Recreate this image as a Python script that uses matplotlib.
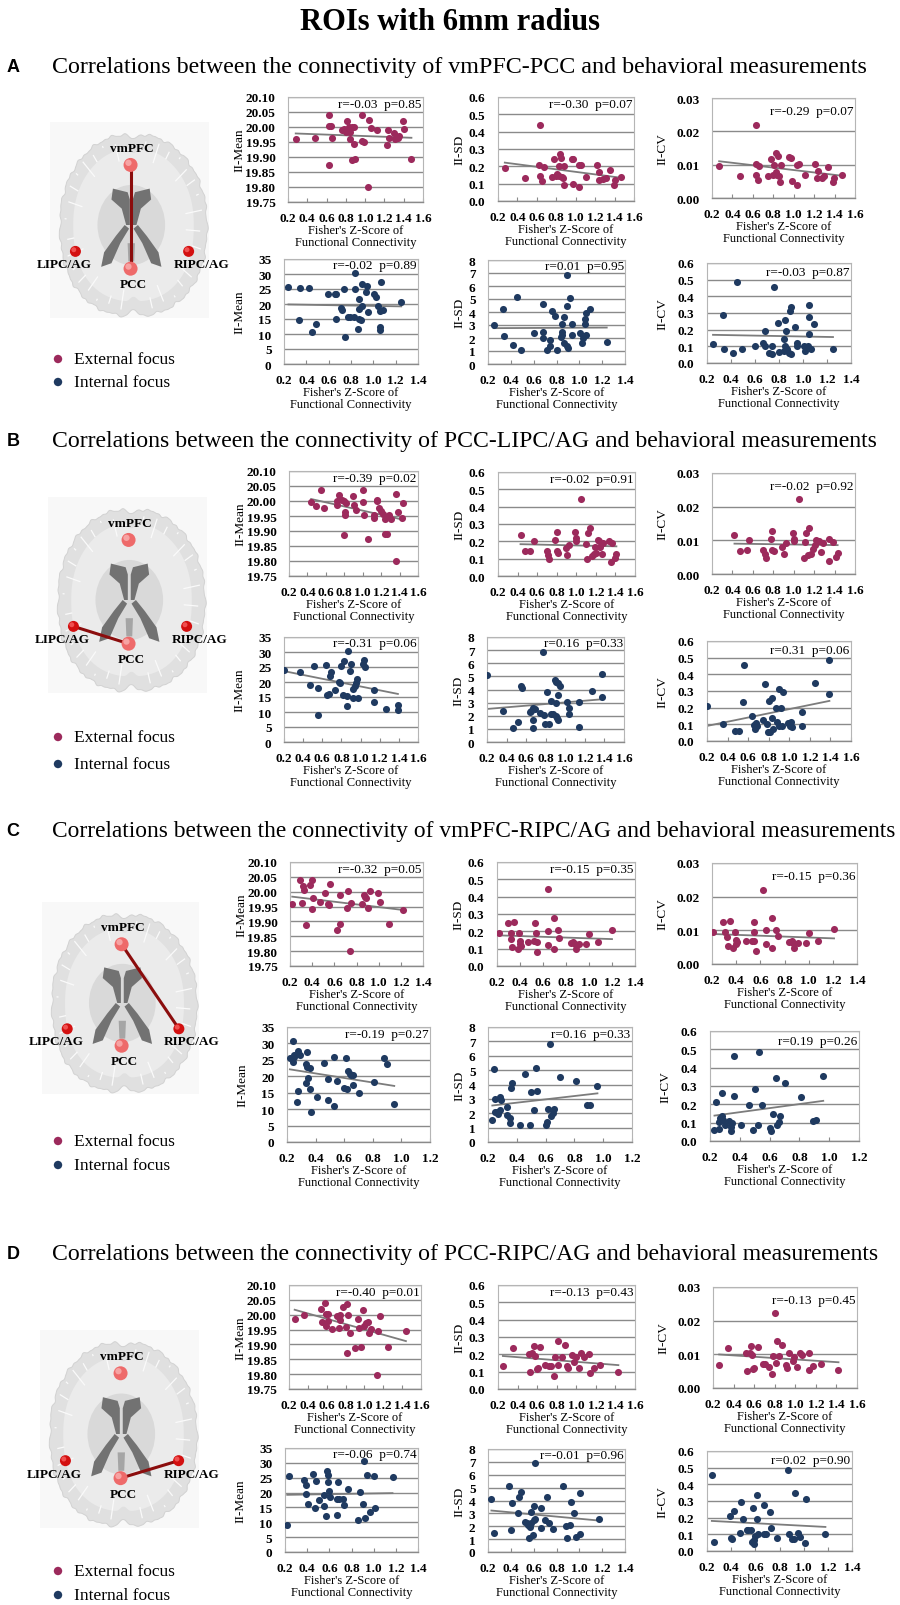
import numpy as np
import matplotlib.pyplot as plt
from matplotlib.patches import Polygon, Circle, Ellipse, Rectangle

plt.rcParams["font.family"] = "serif"
plt.rcParams["font.serif"] = ["Liberation Serif", "DejaVu Serif"]

W, H = 900, 1606
EXT_COLOR = "#9c2a5c"
INT_COLOR = "#1f3a60"

# ---------------- data (x = Fisher's Z, y = behavioural measure) ----------------
a_ext_mean = [(0.28,19.96),(0.48,19.965),(0.63,20.04),(0.63,20.005),(0.65,20.005),(0.66,19.965),(0.63,19.875),(0.76,19.99),(0.78,19.995),(0.81,20.02),(0.81,19.99),(0.83,20.00),(0.84,19.985),(0.86,20.00),(0.88,20.00),(0.84,19.96),(0.88,19.945),(0.86,19.89),(0.89,19.895),(0.97,20.04),(0.97,19.955),(0.99,19.95),(1.04,20.025),(1.06,19.997),(1.03,19.80),(1.12,19.99),(1.23,19.94),(1.24,19.99),(1.25,19.965),(1.30,19.98),(1.31,19.96),(1.35,19.97),(1.39,20.02),(1.40,19.995),(1.48,19.895),(1.34,19.962),(0.80,19.985)]
a_ext_sd = [(0.27,0.19),(0.48,0.135),(0.63,0.44),(0.62,0.21),(0.63,0.145),(0.65,0.115),(0.67,0.195),(0.76,0.14),(0.78,0.24),(0.83,0.20),(0.84,0.27),(0.85,0.25),(0.81,0.155),(0.83,0.145),(0.86,0.138),(0.87,0.13),(0.88,0.095),(0.88,0.20),(0.96,0.245),(0.97,0.24),(0.97,0.10),(1.03,0.08),(1.03,0.205),(1.05,0.205),(1.11,0.14),(1.22,0.205),(1.24,0.165),(1.24,0.12),(1.28,0.125),(1.31,0.13),(1.35,0.18),(1.39,0.095),(1.40,0.12),(1.47,0.14),(0.80,0.145)]
a_ext_cv = [(0.27,0.0096),(0.47,0.0067),(0.63,0.022),(0.63,0.0103),(0.63,0.007),(0.65,0.0055),(0.66,0.0096),(0.75,0.0066),(0.78,0.0117),(0.81,0.0099),(0.83,0.0135),(0.85,0.0127),(0.83,0.0078),(0.84,0.007),(0.86,0.0066),(0.87,0.0048),(0.88,0.0099),(0.95,0.0122),(0.97,0.012),(0.98,0.005),(1.03,0.004),(1.03,0.0099),(1.05,0.0102),(1.11,0.0069),(1.21,0.0102),(1.24,0.0082),(1.23,0.006),(1.28,0.006),(1.30,0.0066),(1.34,0.0093),(1.38,0.0048),(1.39,0.006),(1.47,0.0069),(0.80,0.007)]
a_int_mean = [(0.24,25.7),(0.34,25.5),(0.33,14.6),(0.42,25.2),(0.45,10.6),(0.49,13.2),(0.59,23.3),(0.66,23.3),(0.67,23.3),(0.67,15.1),(0.71,18.8),(0.72,18.0),(0.74,25.0),(0.75,8.9),(0.77,15.8),(0.79,15.8),(0.84,25.0),(0.83,15.8),(0.84,30.5),(0.86,11.8),(0.87,21.8),(0.87,18.2),(0.89,14.7),(0.90,26.8),(0.90,19.5),(0.93,23.9),(0.94,26.0),(0.95,17.3),(1.01,23.3),(1.02,22.4),(1.04,19.5),(1.06,11.2),(1.06,12.2),(1.06,17.6),(1.07,27.3),(1.09,18.0),(1.25,20.8),(0.87,15.0)]
a_int_sd = [(0.25,3.0),(0.33,4.23),(0.34,2.18),(0.42,1.49),(0.45,5.13),(0.49,1.10),(0.60,2.36),(0.68,4.62),(0.68,2.46),(0.68,1.97),(0.72,1.10),(0.74,1.41),(0.74,1.85),(0.76,4.10),(0.79,3.72),(0.80,1.10),(0.85,3.05),(0.85,2.46),(0.84,2.05),(0.85,2.26),(0.87,3.59),(0.87,1.6),(0.89,4.49),(0.89,1.4),(0.89,6.85),(0.90,1.23),(0.92,5.05),(0.94,3.05),(0.94,2.23),(1.01,2.38),(1.02,1.6),(1.03,1.97),(1.05,3.05),(1.05,3.49),(1.06,3.95),(1.06,2.23),(1.09,4.23),(1.24,1.72)]
a_int_cv = [(0.25,0.112),(0.33,0.29),(0.34,0.082),(0.42,0.06),(0.45,0.484),(0.49,0.086),(0.60,0.102),(0.67,0.12),(0.68,0.102),(0.68,0.195),(0.72,0.06),(0.74,0.052),(0.74,0.102),(0.76,0.458),(0.79,0.24),(0.80,0.066),(0.84,0.146),(0.85,0.102),(0.85,0.26),(0.84,0.072),(0.86,0.195),(0.87,0.082),(0.88,0.062),(0.89,0.31),(0.90,0.338),(0.90,0.052),(0.93,0.215),(0.95,0.12),(0.95,0.102),(1.01,0.102),(1.02,0.072),(1.04,0.102),(1.05,0.348),(1.05,0.278),(1.05,0.175),(1.07,0.082),(1.09,0.235),(1.25,0.082)]

b_ext_mean = [(0.44,19.996),(0.49,19.982),(0.55,20.038),(0.58,19.978),(0.72,19.988),(0.72,20.00),(0.74,20.02),(0.78,20.005),(0.80,20.00),(0.81,19.965),(0.81,19.954),(0.82,19.993),(0.80,19.887),(0.89,20.017),(0.91,19.988),(0.93,19.97),(1.00,20.038),(1.00,19.996),(1.01,19.955),(1.06,19.872),(1.12,19.955),(1.12,19.945),(1.15,20.005),(1.16,20.00),(1.18,19.978),(1.20,19.967),(1.22,19.958),(1.24,19.94),(1.24,19.89),(1.26,19.89),(1.28,19.955),(1.31,19.94),(1.36,20.025),(1.36,19.80),(1.38,19.965),(1.43,19.945),(1.44,19.993)]
b_ext_sd = [(0.43,0.238),(0.48,0.142),(0.53,0.142),(0.57,0.20),(0.70,0.142),(0.71,0.12),(0.72,0.097),(0.78,0.21),(0.80,0.255),(0.80,0.142),(0.81,0.135),(0.89,0.159),(0.90,0.12),(0.93,0.18),(0.99,0.252),(1.00,0.217),(1.00,0.203),(1.05,0.445),(1.10,0.187),(1.11,0.097),(1.12,0.248),(1.14,0.277),(1.16,0.113),(1.18,0.125),(1.19,0.165),(1.20,0.13),(1.22,0.21),(1.23,0.20),(1.26,0.128),(1.27,0.19),(1.33,0.20),(1.35,0.083),(1.36,0.193),(1.40,0.103),(1.41,0.125),(1.24,0.17)]
b_ext_cv = [(0.42,0.0117),(0.47,0.0068),(0.54,0.007),(0.56,0.01),(0.70,0.007),(0.72,0.006),(0.73,0.0048),(0.78,0.0103),(0.79,0.0127),(0.79,0.007),(0.81,0.0068),(0.89,0.008),(0.90,0.006),(0.92,0.0092),(0.99,0.0122),(1.00,0.0104),(1.00,0.0099),(1.05,0.0222),(1.11,0.0094),(1.10,0.0048),(1.12,0.0122),(1.15,0.0136),(1.14,0.0055),(1.17,0.006),(1.19,0.0075),(1.21,0.0087),(1.22,0.0101),(1.25,0.0099),(1.27,0.0065),(1.29,0.0092),(1.35,0.0103),(1.35,0.004),(1.38,0.0096),(1.41,0.005),(1.43,0.0063)]
b_int_mean = [(0.20,24.0),(0.37,23.4),(0.47,18.9),(0.51,25.4),(0.55,17.9),(0.56,8.9),(0.64,25.6),(0.65,15.6),(0.67,15.9),(0.68,22.0),(0.69,23.4),(0.73,17.4),(0.77,20.0),(0.79,19.8),(0.80,25.4),(0.82,15.8),(0.83,27.1),(0.86,15.4),(0.86,12.0),(0.87,30.3),(0.89,23.6),(0.90,26.1),(0.92,17.8),(0.92,14.6),(0.94,18.7),(0.96,20.9),(0.97,14.6),(1.03,26.1),(1.04,27.5),(1.05,25.0),(1.14,17.5),(1.14,13.3),(1.27,11.1),(1.39,12.2),(1.39,10.7),(0.95,19.6)]
b_int_sd = [(0.20,5.1),(0.36,2.4),(0.47,1.1),(0.52,1.5),(0.55,4.3),(0.56,4.1),(0.64,2.3),(0.65,2.4),(0.67,2.6),(0.67,1.65),(0.67,1.1),(0.69,2.55),(0.74,2.2),(0.77,6.85),(0.78,2.05),(0.79,1.4),(0.81,3.8),(0.83,1.38),(0.85,3.15),(0.85,2.1),(0.87,2.15),(0.89,4.7),(0.90,3.0),(0.90,4.6),(0.91,1.95),(0.92,1.8),(0.93,4.5),(0.93,3.6),(0.93,1.65),(0.95,4.3),(1.02,3.05),(1.04,2.6),(1.04,2.1),(1.14,1.15),(1.14,3.05),(1.27,3.9),(1.38,5.15),(1.38,3.45)]
b_int_cv = [(0.20,0.21),(0.36,0.10),(0.47,0.06),(0.51,0.06),(0.55,0.237),(0.56,0.457),(0.64,0.149),(0.66,0.097),(0.67,0.074),(0.68,0.109),(0.69,0.089),(0.74,0.129),(0.76,0.34),(0.78,0.10),(0.79,0.054),(0.80,0.24),(0.81,0.054),(0.83,0.26),(0.83,0.137),(0.84,0.074),(0.87,0.199),(0.88,0.113),(0.90,0.314),(0.90,0.093),(0.92,0.199),(0.93,0.089),(0.94,0.294),(0.99,0.109),(1.01,0.089),(1.02,0.113),(1.03,0.083),(1.12,0.177),(1.12,0.089),(1.25,0.35),(1.39,0.487),(1.39,0.282)]

c_ext_mean = [(0.22,19.958),(0.29,20.04),(0.31,19.961),(0.32,20.019),(0.33,20.005),(0.34,19.887),(0.38,20.021),(0.40,20.04),(0.41,19.98),(0.40,19.941),(0.47,19.966),(0.52,19.997),(0.54,19.958),(0.55,19.954),(0.56,20.027),(0.62,19.871),(0.65,19.988),(0.65,19.89),(0.71,19.946),(0.72,20.001),(0.74,19.80),(0.75,19.963),(0.85,19.96),(0.87,19.99),(0.88,19.983),(0.89,19.978),(0.90,19.945),(0.92,20.001),(0.99,19.995),(1.01,19.966),(1.09,19.893),(1.22,19.94)]
c_ext_sd = [(0.22,0.188),(0.30,0.25),(0.32,0.188),(0.32,0.158),(0.33,0.112),(0.35,0.254),(0.38,0.10),(0.39,0.188),(0.40,0.125),(0.40,0.144),(0.41,0.117),(0.47,0.138),(0.52,0.144),(0.53,0.246),(0.55,0.138),(0.54,0.188),(0.55,0.081),(0.64,0.442),(0.64,0.202),(0.64,0.123),(0.70,0.275),(0.70,0.10),(0.73,0.206),(0.74,0.163),(0.84,0.131),(0.86,0.138),(0.88,0.125),(0.89,0.096),(0.91,0.129),(0.97,0.125),(1.00,0.183),(1.08,0.138),(1.20,0.208)]
c_ext_cv = [(0.21,0.0096),(0.29,0.0126),(0.31,0.0094),(0.32,0.0079),(0.33,0.0054),(0.35,0.0129),(0.37,0.0047),(0.39,0.0094),(0.40,0.0072),(0.40,0.0059),(0.41,0.0064),(0.48,0.0069),(0.53,0.0069),(0.55,0.0124),(0.55,0.0096),(0.55,0.0069),(0.56,0.004),(0.62,0.0221),(0.65,0.0102),(0.65,0.0059),(0.70,0.0137),(0.70,0.0049),(0.73,0.0102),(0.75,0.0082),(0.84,0.0066),(0.86,0.0069),(0.87,0.0061),(0.88,0.0047),(0.91,0.0061),(0.98,0.0062),(1.00,0.0092),(1.08,0.0069),(1.21,0.0104)]
c_int_mean = [(0.22,25.6),(0.24,24.4),(0.24,30.6),(0.25,25.9),(0.25,26.4),(0.27,12.2),(0.28,15.4),(0.28,27.7),(0.29,26.4),(0.33,23.6),(0.34,22.9),(0.34,27.4),(0.35,19.5),(0.33,18.0),(0.36,22.4),(0.36,16.0),(0.37,9.1),(0.41,13.7),(0.46,23.9),(0.49,19.1),(0.49,12.7),(0.53,25.9),(0.53,11.0),(0.55,18.6),(0.60,16.3),(0.61,25.6),(0.62,16.1),(0.63,21.5),(0.64,20.8),(0.65,20.5),(0.66,20.3),(0.66,17.5),(0.70,14.9),(0.81,18.3),(0.88,25.6),(0.90,23.6),(0.95,11.5)]
c_int_sd = [(0.23,1.5),(0.24,5.1),(0.25,3.0),(0.25,2.1),(0.26,2.1),(0.27,1.97),(0.28,3.1),(0.28,2.2),(0.29,2.95),(0.33,2.46),(0.33,1.86),(0.35,1.67),(0.35,1.35),(0.36,3.78),(0.37,4.13),(0.42,1.2),(0.46,4.73),(0.49,1.16),(0.50,3.46),(0.52,2.23),(0.53,5.13),(0.54,3.57),(0.60,1.16),(0.61,1.39),(0.62,2.32),(0.63,6.84),(0.64,1.83),(0.65,2.04),(0.66,2.3),(0.70,4.5),(0.81,4.26),(0.89,2.58),(0.91,2.58),(0.96,3.9)]
c_int_cv = [(0.23,0.061),(0.24,0.215),(0.26,0.103),(0.27,0.125),(0.28,0.262),(0.28,0.139),(0.29,0.116),(0.30,0.085),(0.26,0.067),(0.33,0.107),(0.34,0.076),(0.35,0.099),(0.36,0.244),(0.36,0.461),(0.34,0.054),(0.41,0.089),(0.46,0.199),(0.49,0.061),(0.50,0.284),(0.52,0.089),(0.53,0.486),(0.55,0.197),(0.60,0.071),(0.61,0.054),(0.62,0.148),(0.64,0.342),(0.65,0.089),(0.66,0.103),(0.67,0.134),(0.70,0.315),(0.81,0.239),(0.89,0.107),(0.91,0.112),(0.96,0.353)]

d_ext_mean = [(0.26,19.985),(0.36,19.998),(0.54,20.018),(0.55,19.977),(0.58,20.038),(0.59,20.004),(0.61,20.004),(0.59,19.963),(0.61,19.98),(0.66,19.953),(0.71,19.996),(0.73,19.956),(0.74,19.982),(0.74,19.998),(0.77,20.026),(0.80,19.958),(0.82,19.872),(0.82,20.037),(0.83,19.998),(0.85,19.94),(0.90,19.888),(0.93,19.985),(0.94,19.956),(0.96,19.89),(0.99,20.015),(1.00,19.963),(1.02,19.971),(1.04,19.977),(1.05,19.938),(1.07,19.951),(1.13,19.798),(1.14,19.944),(1.17,19.994),(1.25,19.892),(1.44,19.944)]
d_ext_sd = [(0.25,0.135),(0.35,0.237),(0.52,0.202),(0.53,0.096),(0.55,0.206),(0.57,0.25),(0.58,0.19),(0.60,0.115),(0.61,0.121),(0.63,0.244),(0.68,0.14),(0.72,0.135),(0.74,0.13),(0.77,0.077),(0.78,0.187),(0.81,0.275),(0.81,0.14),(0.85,0.187),(0.88,0.254),(0.91,0.135),(0.92,0.121),(0.96,0.198),(0.98,0.158),(1.00,0.183),(1.03,0.121),(1.05,0.206),(1.08,0.187),(1.13,0.202),(1.14,0.090),(1.18,0.121),(1.24,0.138),(1.43,0.096)]
d_ext_cv = [(0.26,0.0069),(0.35,0.0119),(0.52,0.0103),(0.53,0.0050),(0.56,0.0103),(0.57,0.0124),(0.58,0.0099),(0.59,0.0056),(0.60,0.006),(0.64,0.0123),(0.69,0.007),(0.71,0.0072),(0.74,0.0062),(0.77,0.0042),(0.78,0.0096),(0.80,0.0223),(0.82,0.0139),(0.81,0.0074),(0.84,0.0096),(0.87,0.0129),(0.91,0.0067),(0.92,0.006),(0.94,0.0103),(0.98,0.0081),(0.99,0.0093),(1.02,0.0062),(1.05,0.0103),(1.07,0.0099),(1.13,0.0052),(1.13,0.0103),(1.17,0.0064),(1.25,0.0072),(1.42,0.0052)]
d_int_mean = [(0.22,9.0),(0.24,25.5),(0.37,24.1),(0.39,22.4),(0.39,19.6),(0.41,16.1),(0.45,26.3),(0.47,14.8),(0.48,23.8),(0.51,17.6),(0.55,19.1),(0.55,15.4),(0.57,12.0),(0.58,27.2),(0.59,25.8),(0.59,23.6),(0.60,20.5),(0.61,18.5),(0.68,23.6),(0.67,12.3),(0.67,17.9),(0.69,17.9),(0.72,17.9),(0.73,15.7),(0.77,21.3),(0.86,10.9),(0.88,20.2),(0.90,16.3),(0.91,30.6),(0.92,11.4),(0.94,26.0),(0.97,13.4),(1.00,25.7),(1.01,14.9),(1.17,25.3)]
d_int_sd = [(0.23,4.12),(0.25,1.5),(0.38,5.15),(0.40,1.67),(0.41,3.79),(0.46,3.02),(0.47,4.25),(0.49,4.69),(0.52,2.32),(0.54,2.24),(0.55,2.11),(0.56,1.11),(0.57,1.93),(0.58,3.14),(0.58,2.24),(0.59,1.29),(0.60,2.5),(0.60,3.56),(0.61,6.89),(0.61,2.58),(0.66,1.88),(0.66,3.43),(0.70,2.45),(0.72,4.25),(0.73,2.27),(0.77,1.75),(0.86,5.15),(0.88,2.0),(0.89,1.11),(0.92,2.13),(0.93,3.92),(0.95,3.02),(0.97,1.16),(1.01,4.56),(1.01,1.37),(1.17,2.53)]
d_int_cv = [(0.24,0.459),(0.26,0.056),(0.39,0.211),(0.40,0.081),(0.41,0.07),(0.42,0.241),(0.47,0.111),(0.48,0.292),(0.50,0.195),(0.53,0.127),(0.54,0.125),(0.56,0.125),(0.57,0.056),(0.58,0.258),(0.59,0.064),(0.59,0.044),(0.60,0.091),(0.61,0.191),(0.61,0.338),(0.62,0.105),(0.67,0.278),(0.67,0.101),(0.69,0.101),(0.72,0.235),(0.73,0.141),(0.78,0.081),(0.87,0.487),(0.88,0.101),(0.90,0.07),(0.92,0.07),(0.93,0.348),(0.95,0.111),(0.97,0.085),(1.01,0.05),(1.02,0.312),(1.18,0.101)]

a_notes = ["r=-0.03  p=0.85", "r=-0.30  p=0.07", "r=-0.29  p=0.07", "r=-0.02  p=0.89", "r=0.01  p=0.95", "r=-0.03  p=0.87"]
b_notes = ["r=-0.39  p=0.02", "r=-0.02  p=0.91", "r=-0.02  p=0.92", "r=-0.31  p=0.06", "r=0.16  p=0.33", "r=0.31  p=0.06"]
c_notes = ["r=-0.32  p=0.05", "r=-0.15  p=0.35", "r=-0.15  p=0.36", "r=-0.19  p=0.27", "r=0.16  p=0.33", "r=0.19  p=0.26"]
d_notes = ["r=-0.40  p=0.01", "r=-0.13  p=0.43", "r=-0.13  p=0.45", "r=-0.06  p=0.74", "r=-0.01  p=0.96", "r=0.02  p=0.90"]

panel_letters = ["A", "B", "C", "D"]
panel_titles = [
    "Correlations between the connectivity of vmPFC-PCC and behavioral measurements",
    "Correlations between the connectivity of PCC-LIPC/AG and behavioral measurements",
    "Correlations between the connectivity of vmPFC-RIPC/AG and behavioral measurements",
    "Correlations between the connectivity of PCC-RIPC/AG and behavioral measurements",
]
panel_links = [("vmPFC", "PCC"), ("LIPC/AG", "PCC"), ("vmPFC", "RIPC/AG"), ("PCC", "RIPC/AG")]
panel_data = [
    [a_ext_mean, a_ext_sd, a_ext_cv, a_int_mean, a_int_sd, a_int_cv],
    [b_ext_mean, b_ext_sd, b_ext_cv, b_int_mean, b_int_sd, b_int_cv],
    [c_ext_mean, c_ext_sd, c_ext_cv, c_int_mean, c_int_sd, c_int_cv],
    [d_ext_mean, d_ext_sd, d_ext_cv, d_int_mean, d_int_sd, d_int_cv],
]
panel_notes = [a_notes, b_notes, c_notes, d_notes]
panel_xmax = [(1.6, 1.4), (1.6, 1.6), (1.4, 1.2), (1.6, 1.4)]

# y axis per measure: label, limits, number of steps, format
measures = [
    ("II-Mean", (19.75, 20.10), 7, "{:.2f}"),
    ("II-SD", (0.0, 0.6), 6, "{:.1f}"),
    ("II-CV", (0.0, 0.03), 3, "{:.2f}"),
    ("II-Mean", (0, 35), 7, "{:.0f}"),
    ("II-SD", (0, 8), 8, "{:.0f}"),
    ("II-CV", (0.0, 0.6), 6, "{:.1f}"),
]

# ---------------- layout in pixels ----------------
title_y = [67, 441, 832, 1255]
title_size = [17.3, 17.1, 16.8, 17.1]
brain_box = [(60, 207, 135, 317), (58, 205, 510, 692), (52, 197, 915, 1093), (50, 197, 1343, 1527)]
legend_y = [(360, 383), (738, 765), (1142, 1166), (1572, 1596)]
axes_box = [
    [(288, 423, 98, 203), (498, 634, 98, 202), (712, 855, 99, 199),
     (284, 418, 260, 365), (488, 625, 261, 365), (707, 851, 264, 364)],
    [(289, 418, 472, 577), (498, 635, 473, 577), (712, 855, 474, 575),
     (284, 418, 638, 743), (487, 624, 638, 743), (707, 851, 642, 742)],
    [(290, 423, 863, 967), (497, 635, 863, 967), (712, 857, 864, 965),
     (287, 430, 1028, 1143), (488, 632, 1028, 1143), (710, 859, 1032, 1142)],
    [(289, 421, 1286, 1390), (498, 635, 1286, 1390), (713, 857, 1288, 1389),
     (285, 418, 1449, 1553), (488, 625, 1450, 1553), (707, 852, 1452, 1552)],
]
ylabel_off = [48, 38, 49, 44, 28, 44]
note_y = [0.933, 0.933, 0.87, 0.94, 0.94, 0.91]

nodes = {"vmPFC": (0.48, 0.17), "PCC": (0.48, 0.74), "LIPC/AG": (0.105, 0.645), "RIPC/AG": (0.875, 0.645)}
node_labels = {"vmPFC": (0.49, 0.075), "PCC": (0.50, 0.825), "LIPC/AG": (0.03, 0.715), "RIPC/AG": (0.965, 0.715)}

fig = plt.figure(figsize=(W / 100, H / 100), dpi=100)
bg = fig.add_axes([0, 0, 1, 1])
bg.set_xlim(0, W)
bg.set_ylim(H, 0)
bg.axis("off")


def draw_brain(ax, box, link):
    x0, x1, y0, y1 = box
    w, h = x1 - x0, y1 - y0

    def P(u, v):
        return np.column_stack([x0 + np.asarray(u) * w, y0 + np.asarray(v) * h])

    ax.add_patch(Rectangle((x0 - 10, y0 - 12), w + 12, h + 14, color="#f8f8f8", lw=0, zorder=0))
    t = np.linspace(0, 2 * np.pi, 1200)
    c, s = np.cos(t), np.sin(t)
    ux = np.sign(c) * np.abs(c) ** (2 / 2.3)
    uy = np.sign(s) * np.abs(s) ** (2 / 2.3)
    ux = ux * (1 - 0.10 * np.clip(-uy, 0, 1) ** 2)
    r = 1 + 0.009 * np.sin(23 * t + 0.5) + 0.007 * np.sin(41 * t + 1.3) + 0.004 * np.sin(67 * t)
    notch = 0.06 * (np.exp(-((t - np.pi / 2) / 0.05) ** 2) + np.exp(-((t - 3 * np.pi / 2) / 0.05) ** 2))
    ax.add_patch(Polygon(P(0.5 + 0.5 * ux * r, 0.5 + 0.5 * uy * (r - notch)),
                         fc="#e0e0e0", ec="#d2d2d2", lw=0.7, zorder=1))
    ax.add_patch(Polygon(P(0.5 + 0.41 * ux, 0.5 + 0.42 * uy * (1 - notch)),
                         fc="#ebebeb", ec="none", zorder=1))
    # sulci: short light strokes of varying length near the rim
    for k in range(34):
        a = 2 * np.pi * k / 34 + 0.05
        ca, sa = np.cos(a), np.sin(a)
        if abs(ca) < 0.12:
            continue
        ex = np.sign(ca) * abs(ca) ** (2 / 2.3)
        ey = np.sign(sa) * abs(sa) ** (2 / 2.3)
        r0 = 0.36 + 0.05 * ((k * 7) % 3)
        r1 = 0.45 + 0.015 * ((k * 5) % 2)
        ax.plot(*P([0.5 + r0 * ex, 0.5 + r1 * ex], [0.5 + r0 * ey, 0.5 + r1 * ey]).T,
                color="#fafafa", lw=0.9, zorder=1)
    ax.add_patch(Ellipse((x0 + 0.485 * w, y0 + 0.5 * h), 0.46 * w, 0.44 * h, fc="#d9d9d9", ec="none", zorder=1))
    horn = np.array([(0.36, 0.30), (0.46, 0.32), (0.475, 0.36), (0.475, 0.50), (0.45, 0.50), (0.42, 0.41), (0.35, 0.36)])
    arm = np.array([(0.44, 0.50), (0.47, 0.52), (0.41, 0.60), (0.35, 0.71), (0.28, 0.73), (0.30, 0.65), (0.38, 0.56)])
    for shape in (horn, arm):
        ax.add_patch(Polygon(P(shape[:, 0], shape[:, 1]), fc="#727272", ec="none", zorder=1))
        ax.add_patch(Polygon(P(0.97 - shape[:, 0], shape[:, 1]), fc="#727272", ec="none", zorder=1))
    ax.add_patch(Polygon(P([0.46, 0.51, 0.505, 0.465], [0.60, 0.60, 0.70, 0.70]), fc="#a5a5a5", ec="none", zorder=1))

    (ua, va), (ub, vb) = nodes[link[0]], nodes[link[1]]
    ax.plot([x0 + ua * w, x0 + ub * w], [y0 + va * h, y0 + vb * h], color="#8b0d0d", lw=2.2,
            solid_capstyle="butt", zorder=2)
    for name, (u, v) in nodes.items():
        big = name in ("vmPFC", "PCC")
        rad = 7.0 if big else 5.5
        cx, cy = x0 + u * w, y0 + v * h
        ax.add_patch(Circle((cx, cy), rad, fc="#ee6a6a" if big else "#d31010", ec="none", zorder=3))
        ax.add_patch(Circle((cx - rad * 0.3, cy - rad * 0.3), rad * 0.45,
                            fc="#f6a3a3" if big else "#f05050", ec="none", zorder=3))
        lu, lv = node_labels[name]
        ax.text(x0 + lu * w, y0 + lv * h, name, ha="center", va="center", fontsize=9.5,
                fontweight="bold", zorder=4)


def draw_scatter(box, pts, color, measure, xmax, note, ny, yoff):
    x0, x1, y0, y1 = box
    wpx, hpx = x1 - x0, y1 - y0
    ax = fig.add_axes([x0 / W, 1 - y1 / H, wpx / W, hpx / H])
    label, (lo, hi), nsteps, fmt = measure
    xy = np.array(pts)
    slope, icpt = np.polyfit(xy[:, 0], xy[:, 1], 1)
    xs = np.array([xy[:, 0].min(), xy[:, 0].max()])
    ax.plot(xs, slope * xs + icpt, color="#7c7c7c", lw=1.3, zorder=2)
    ax.scatter(xy[:, 0], xy[:, 1], s=26, color=color, linewidths=0, zorder=3)

    ax.set_xlim(0.2, xmax)
    ax.set_ylim(lo, hi)
    xt = np.linspace(0.2, xmax, int(round((xmax - 0.2) / 0.2)) + 1)
    yt = np.linspace(lo, hi, nsteps + 1)
    ax.set_xticks(xt, ["{:.1f}".format(v) for v in xt], fontsize=9.5, fontweight="bold")
    ax.set_yticks(yt, [fmt.format(v) for v in yt], fontsize=9.5, fontweight="bold")
    ax.tick_params(axis="x", direction="in", length=3, color="#8a8a8a", pad=7)
    ax.tick_params(axis="y", length=0, pad=9)
    ax.yaxis.grid(True, color="#8a8a8a", lw=1.0)
    ax.set_axisbelow(True)
    for side in ("top", "right", "left"):
        ax.spines[side].set_color("#b5b5b5")
        ax.spines[side].set_linewidth(0.8)
    ax.spines["bottom"].set_color("#8a8a8a")
    ax.spines["bottom"].set_linewidth(1.0)

    ax.set_xlabel("Fisher's Z-Score of\nFunctional Connectivity", fontsize=9, linespacing=1.05)
    ax.xaxis.set_label_coords(0.5, -22 / hpx)
    ax.set_ylabel(label, fontsize=9.5)
    ax.yaxis.set_label_coords(-(yoff - 5) / wpx, 0.5)
    ax.text(0.99, ny, note, transform=ax.transAxes, ha="right", va="center", fontsize=9.5)


bg.text(450, 22, "ROIs with 6mm radius", ha="center", va="center", fontsize=22, fontweight="bold")

for p in range(4):
    ty = title_y[p]
    bg.text(13, ty, panel_letters[p], ha="center", va="center", fontsize=13, fontweight="bold",
            family="Liberation Sans")
    bg.text(52, ty, panel_titles[p], ha="left", va="center", fontsize=title_size[p])
    draw_brain(bg, brain_box[p], panel_links[p])
    for (ly, col, txt) in zip(legend_y[p], (EXT_COLOR, INT_COLOR), ("External focus", "Internal focus")):
        bg.add_patch(Circle((58, ly), 4.2, fc=col, ec="none"))
        bg.text(74, ly, txt, ha="left", va="center", fontsize=12.5)
    for i in range(6):
        row = i // 3
        draw_scatter(axes_box[p][i], panel_data[p][i], EXT_COLOR if row == 0 else INT_COLOR,
                     measures[i], panel_xmax[p][row], panel_notes[p][i], note_y[i], ylabel_off[i])

fig.savefig("out.png", dpi=100)
